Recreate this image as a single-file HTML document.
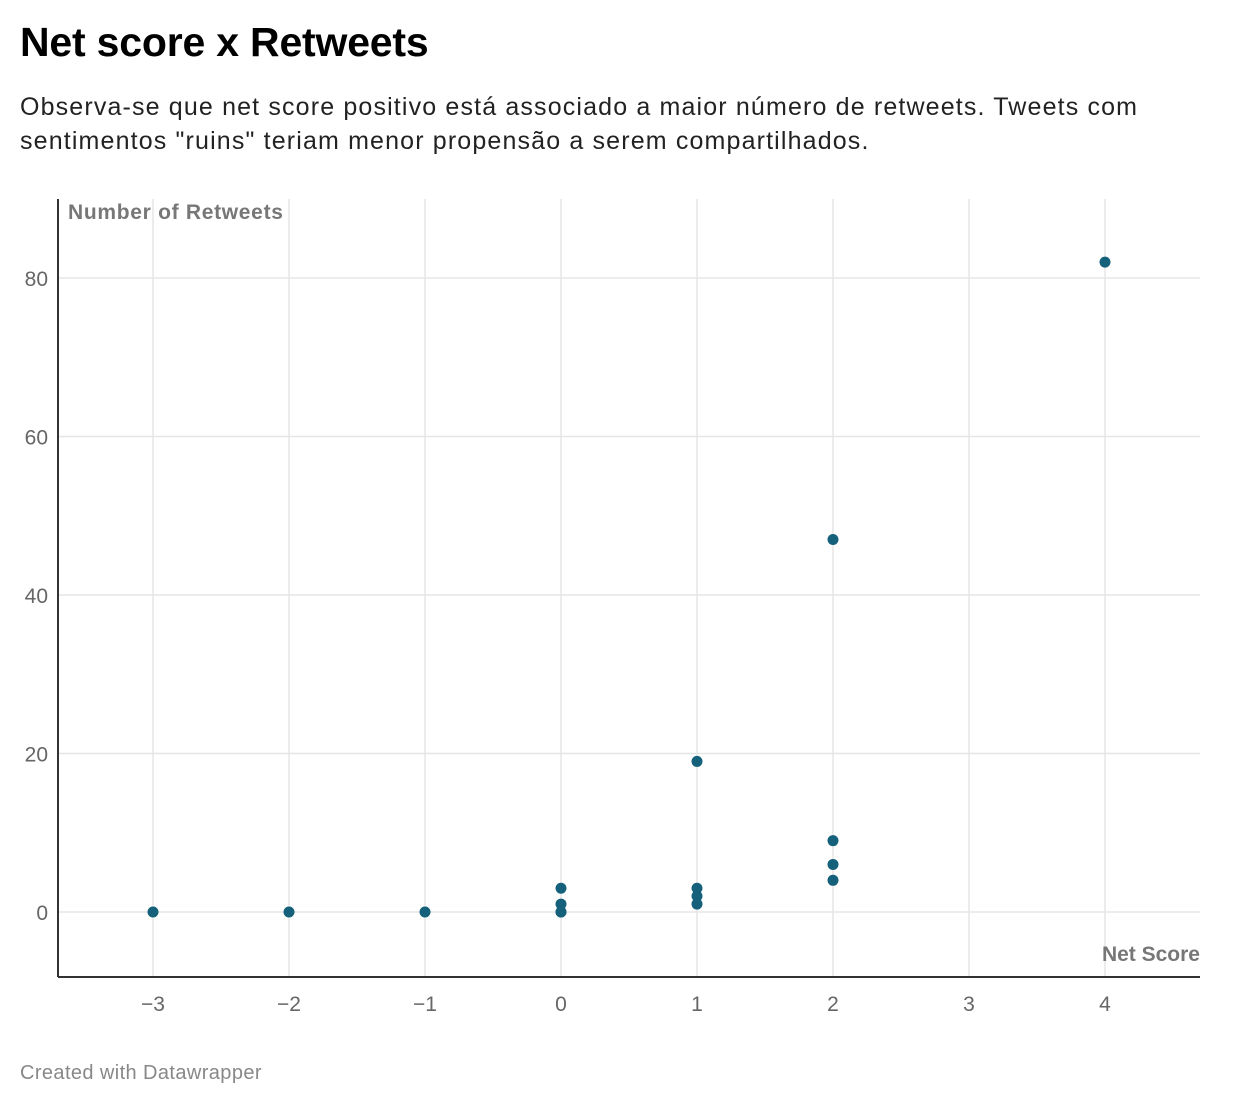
<!DOCTYPE html>
<html><head><meta charset="utf-8"><style>
body{margin:0;background:#fff;width:1240px;height:1118px;overflow:hidden;font-family:"Liberation Sans",sans-serif}
h1{position:absolute;left:20px;top:19px;margin:0;font-size:41px;font-weight:bold;color:#000;letter-spacing:-0.2px}
p.sub{position:absolute;left:20px;top:90px;margin:0;font-size:25px;letter-spacing:1.15px;line-height:34px;color:#222;width:1220px;white-space:nowrap}
.foot{position:absolute;left:20px;top:1062px;font-size:20px;letter-spacing:0.4px;color:#888}
svg{position:absolute;left:0;top:0}
</style></head><body>
<h1>Net score x Retweets</h1>
<p class="sub">Observa-se que net score positivo está associado a maior número de retweets. Tweets com<br>sentimentos "ruins" teriam menor propensão a serem compartilhados.</p>
<svg id="chart" width="1240" height="1118"></svg>
<div class="foot">Created with Datawrapper</div>
<script>
const xTicks=[-3,-2,-1,0,1,2,3,4];
const yTicks=[0,20,40,60,80];
const xValues=[-3,-2,-1,0,0,0,0,1,1,1,1,2,2,2,2,4];
const yValues=[0,0,0,3,1,0,0,19,3,2,1,47,9,6,4,82];
const NS="http://www.w3.org/2000/svg";
const svg=document.getElementById('chart');
const L=58,R=1200,T=199,B=977;
const xs=v=>561+v*136;
const ys=v=>912-v*(634/80);
function mk(t,a){const e=document.createElementNS(NS,t);for(const k in a)e.setAttribute(k,a[k]);svg.appendChild(e);return e;}
xTicks.forEach(t=>{
 const g=mk('line',{x1:xs(t),x2:xs(t),y1:T,y2:B,stroke:'#e5e5e5','stroke-width':1.5});
 
 
 const tx=mk('text',{x:xs(t),y:1011,'text-anchor':'middle','font-size':21,fill:'#666','font-family':'Liberation Sans, sans-serif'});
 tx.textContent=t<0?'\u2212'+(-t):String(t);
 
 
});
yTicks.forEach(t=>{
 const g=mk('line',{x1:L,x2:R,y1:ys(t),y2:ys(t),stroke:'#e5e5e5','stroke-width':1.5});
 
 
 const tx=mk('text',{x:48,y:ys(t)+8,'text-anchor':'end','font-size':21,fill:'#666','font-family':'Liberation Sans, sans-serif'});
 tx.textContent=String(t);
 
 
});
const ax1=mk('line',{x1:L,x2:L,y1:T,y2:B,stroke:'#333','stroke-width':2});


const ax2=mk('line',{x1:L,x2:R,y1:B,y2:B,stroke:'#333','stroke-width':2});


const yt=mk('text',{x:68,y:219,'font-size':21,'font-weight':'bold','letter-spacing':'0.7',fill:'#777','font-family':'Liberation Sans, sans-serif'});
yt.textContent='Number of Retweets';


const xt=mk('text',{x:1200,y:961,'text-anchor':'end','font-size':21,'font-weight':'bold',fill:'#777','font-family':'Liberation Sans, sans-serif'});
xt.textContent='Net Score';


xValues.forEach((v,i)=>{
 const c=mk('circle',{cx:xs(v),cy:ys(yValues[i]),r:5.5,fill:'#15607a'});
 
 
});
</script>
</body></html>
